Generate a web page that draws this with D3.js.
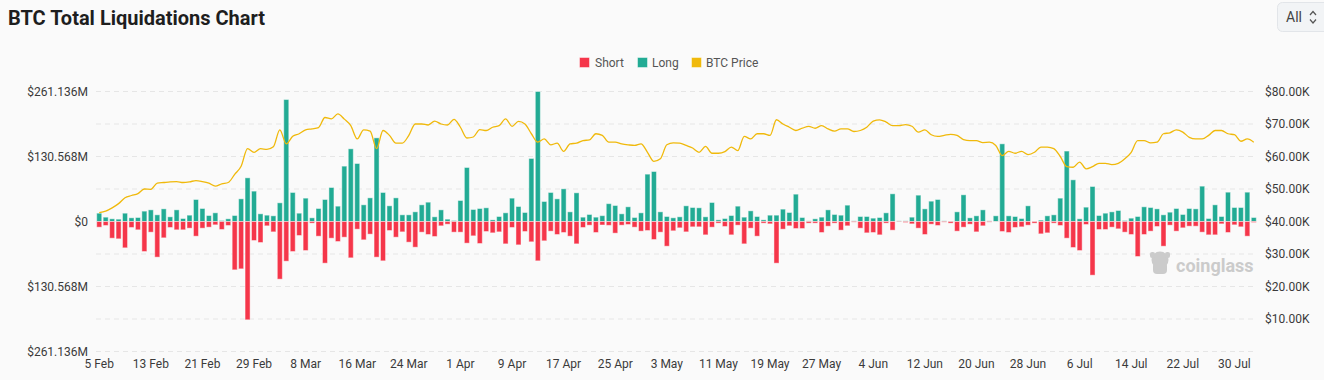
<!DOCTYPE html>
<html><head><meta charset="utf-8">
<script src="https://cdn.jsdelivr.net/npm/d3@7"></script>
<style>
html,body{margin:0;padding:0;background:#fafafa;}
svg{display:block;font-family:Roboto,"Noto Sans",sans-serif;}
</style></head><body>
<svg id="c" width="1324" height="380"></svg>
<script>
// ---- data ----
const startDate = "2024-02-05";
const dayCount = 180;
const tickLabels = ["5 Feb","13 Feb","21 Feb","29 Feb","8 Mar","16 Mar","24 Mar","1 Apr","9 Apr","17 Apr","25 Apr","3 May","11 May","19 May","27 May","4 Jun","12 Jun","20 Jun","28 Jun","6 Jul","14 Jul","22 Jul","30 Jul"];
const longs = [16.7,8.7,5.4,4.7,16.7,7.4,8,20.8,23.4,13.4,
25.4,9.4,23.4,6,12.7,44.2,26.1,12,17.4,2,
5.4,12,45.5,87.7,61,15.4,12.7,11.4,37.5,245,
58.3,16.7,46.9,7.4,26.1,44.2,68.3,30.8,111.2,146,
116.5,33.5,47.5,168,58.3,31.5,47.5,13.4,13.4,19.4,
33.5,38.8,9.4,23.4,4.7,2,42.2,108.5,24.1,26.1,
27.5,3.3,10,17.4,46.9,30.1,18.1,126.6,261.136,40.2,
58.3,45.5,65.6,19.4,57.6,8.7,14.1,8.7,11.7,35.8,
32.1,15.4,29.5,8,17.4,95.1,100.4,19.4,10,7.4,
9.4,31.5,28.1,27.5,9.4,38.2,3.3,6,12,30.8,
8.7,21.4,10,3.3,12.7,12.7,24.8,18.1,54.9,8,
1.3,5.4,8.7,23.4,14.1,12.7,32.8,1.3,10,10,
6.7,8,17.4,55.6,1.3,1.3,8.7,52.9,25.4,40.8,
44.2,1.3,0.7,19.4,53.6,7.4,11.4,23.4,1.3,11.4,
156,11.4,10,6,31.5,0.3,2.7,11.4,13.4,46.9,
141.5,83.7,5.4,28.8,70.3,12,16.7,19.4,22.1,2,
6.7,10,29.5,28.1,25.4,13.4,18.7,26.1,14.1,26.1,
25.4,71,6,33.5,10,58.9,28.1,28.1,58.9,8];
const shorts = [11.4,8,33.5,34.8,52.9,12,16.7,60.3,21.4,71.6,
32.8,12,16.7,16.7,13.4,29.5,13.4,11.4,6.7,16,
8,97.1,95.1,197.5,38.2,42.2,8.7,20.8,115.8,79.7,
60.3,28.1,58.3,3.3,29.5,83.7,33.5,40.2,31.5,73,
15.4,36.8,25.4,71.6,79,18.1,31.5,20.8,41.5,51.6,
21.4,26.1,30.1,8.7,5.4,21.4,21.4,43.5,28.8,44.2,
20.1,22.8,20.8,44.9,12,46.9,20.1,40.8,79,38.8,
19.4,26.1,22.1,29.5,44.9,12,7.4,22.1,7,7.7,
23.4,7.4,6,11.4,19.4,18.1,36.2,21.4,49.6,18.7,
12.7,20.8,10.7,10.7,26.8,11.4,3.3,10,26.8,7.4,
44.9,13.4,29.5,3.3,4.7,83.7,15.4,8.7,14.1,14.1,
3.3,3.3,22.1,9.4,3.3,17.4,8.7,1.3,13.4,22.8,
22.1,26.8,3.3,17.4,0.7,2,4.7,13.4,26.1,5.4,
8,1.3,3.3,19.4,11.4,5.4,20.8,8.7,1.3,0.3,
20.1,22.1,12,10.7,7.4,3.3,24.8,22.8,3.3,8,
33.5,52.2,58.3,6,107.8,16.1,16.1,11.4,14.7,21.4,
26.1,70.3,26.1,19.4,10,49.6,7.4,19.4,12.7,9.4,
9.4,21.4,26.8,26.8,4.7,22.1,6.7,10.7,29.5,2];
const prices = [42.7,43.2,44.2,45.5,47.3,48,48.6,50,49.9,51.8,
52,52.2,52.3,52,52.2,52.6,52.3,51.8,50.9,51.6,
52,54.5,57,62.4,61.3,62.4,62.2,63,68.2,63.9,
66.2,67,68.2,68.5,68.9,72,71.6,73.1,71.5,69.5,
65.4,68.2,67.8,62.4,68,66.5,64.1,64.1,66.5,70,
70,69.7,70.9,70,69.7,71.4,69,65.7,66,68.3,
68,69,69.5,71.6,69.3,70.8,70,67,64.4,65.4,
63.6,64.1,61.6,63.9,64.1,64.9,65.1,67,66.5,64.4,
64.4,63.9,63.6,63.4,63.9,61.3,58.5,59.3,63.6,64.2,
64.1,63.4,62.6,61.3,63.1,61,61,61.5,62.9,61.8,
66.2,65.4,67,67,66.5,71.3,70,69,68,68.7,
69.3,68.7,69.5,68.5,67.8,68.5,68.5,67.7,68,69,
70.9,71.3,70.6,69.5,69.5,69.8,69.3,67.5,68.2,66.7,
66.2,66.5,66.8,66.5,65.2,64.9,64.9,64.3,64.4,63.4,
60.3,61.6,61,61.6,60.6,61.3,62.9,62.9,62.4,60,
56.9,56.7,58.3,56.2,56.9,57.9,57.9,57.5,57.9,59.3,
61.3,64.9,64.9,64.2,64.4,67,67.3,68.2,67.5,65.9,
65.4,65.4,66.5,68,68,67,66.7,64.7,65.4,64.4];
const leftTickValues = [261.136,130.568,0,-130.568,-261.136];
const leftTickLabels = ["$261.136M","$130.568M","$0","$130.568M","$261.136M"];
const rightTickValues = [10,20,30,40,50,60,70,80];
const gridValues = [0,10,20,30,40,50,60,70,80];
const legendItems = ["Short","Long","BTC Price"];

// ---- setup ----
const C = {short:"#f5364a", long:"#22ab94", price:"#f0b90b"};
const svg = d3.select("#c");
const fmt = d3.timeFormat("%-d %b");
const d0 = d3.timeParse("%Y-%m-%d")(startDate);
const dates = d3.timeDay.range(d0, d3.timeDay.offset(d0, dayCount));
const cats = dates.map(fmt);

const L = 96, R = 1257, T = 91.5, B = 351.5;
const x = d3.scaleBand().domain(cats).range([L, R]).paddingInner(0.22).paddingOuter(0.11);
const yL = d3.scaleLinear().domain([-261.136, 261.136]).range([B, T]);
const yR = d3.scaleLinear().domain([0, 80]).range([B, T]);
const bw = x.bandwidth();

// title
svg.append("text").attr("x", 8).attr("y", 25).attr("font-size", 20).attr("font-weight", 700)
  .attr("fill", "#1e1e1e").text("BTC Total Liquidations Chart");

// select box
const sel = svg.append("g");
sel.append("rect").attr("x", 1277.5).attr("y", 2.5).attr("width", 60).attr("height", 29).attr("rx", 5)
  .attr("fill", "#f2f4f6").attr("stroke", "#e2e5e9");
sel.append("text").attr("x", 1286).attr("y", 22).attr("font-size", 14).attr("fill", "#444").text("All");
sel.append("path").attr("d", "M1310,15 L1313,11.5 L1316,15 M1310,19.5 L1313,23 L1316,19.5")
  .attr("fill", "none").attr("stroke", "#555").attr("stroke-width", 1.2);

// grid
svg.append("g").selectAll("line").data(gridValues).join("line")
  .attr("x1", L).attr("x2", R).attr("y1", d => yR(d)).attr("y2", d => yR(d))
  .attr("stroke", "#e6e6e6").attr("stroke-dasharray", "5,4");

// legend
const lx = [579, 637, 691], tx = [595, 652, 706];
const lcol = [C.short, C.long, C.price];
const lg = svg.append("g");
legendItems.forEach((t, i) => {
  lg.append("rect").attr("x", lx[i] + 0.5).attr("y", 57.5).attr("width", 10).attr("height", 10)
    .attr("fill", lcol[i]).attr("stroke", "rgba(255,255,255,0.45)");
  lg.append("text").attr("x", tx[i]).attr("y", 67).attr("font-size", 12).attr("fill", "#555").text(t);
});

// watermark
const wm = svg.append("g").attr("fill", "#cbcbcb");
wm.append("circle").attr("cx", 1160).attr("cy", 260).attr("r", 8.5);
wm.append("rect").attr("x", 1153).attr("y", 262).attr("width", 14).attr("height", 12).attr("rx", 4);
wm.append("rect").attr("x", 1150).attr("y", 252).attr("width", 5).attr("height", 6).attr("rx", 2);
wm.append("rect").attr("x", 1165).attr("y", 252).attr("width", 5).attr("height", 6).attr("rx", 2);
wm.append("text").attr("x", 1176).attr("y", 272).attr("font-size", 18).attr("font-weight", 700).text("coinglass");

// bars
const stroke = "rgba(255,255,255,0.45)";
svg.append("g").selectAll("rect").data(longs).join("rect")
  .attr("x", (d, i) => x(cats[i])).attr("width", bw)
  .attr("y", d => yL(d)).attr("height", d => yL(0) - yL(d))
  .attr("fill", C.long).attr("stroke", stroke).attr("stroke-width", 1);
svg.append("g").selectAll("rect").data(shorts).join("rect")
  .attr("x", (d, i) => x(cats[i])).attr("width", bw)
  .attr("y", yL(0)).attr("height", d => yL(-d) - yL(0))
  .attr("fill", C.short).attr("stroke", stroke).attr("stroke-width", 1);

// price line
const line = d3.line().x((d, i) => x(cats[i]) + bw / 2).y(d => yR(d)).curve(d3.curveMonotoneX);
svg.append("path").datum(prices).attr("d", line).attr("fill", "none")
  .attr("stroke", C.price).attr("stroke-width", 1.3);

// axes
function style(g) {
  g.select(".domain").remove();
  g.selectAll("text").attr("fill", "#3a3a3a").attr("font-size", 12).attr("font-family", "Roboto,'Noto Sans',sans-serif");
}
svg.append("g").attr("transform", `translate(${L},0)`)
  .call(d3.axisLeft(yL).tickValues(leftTickValues).tickFormat((d, i) => leftTickLabels[i]).tickSize(0).tickPadding(8))
  .call(style);
svg.append("g").attr("transform", `translate(${R},0)`)
  .call(d3.axisRight(yR).tickValues(rightTickValues).tickFormat(d => "$" + d.toFixed(2) + "K").tickSize(0).tickPadding(8))
  .call(style);
svg.append("g").attr("transform", `translate(0,${B})`)
  .call(d3.axisBottom(x).tickValues(tickLabels).tickSize(0).tickPadding(8))
  .call(style);
</script>
</body></html>
